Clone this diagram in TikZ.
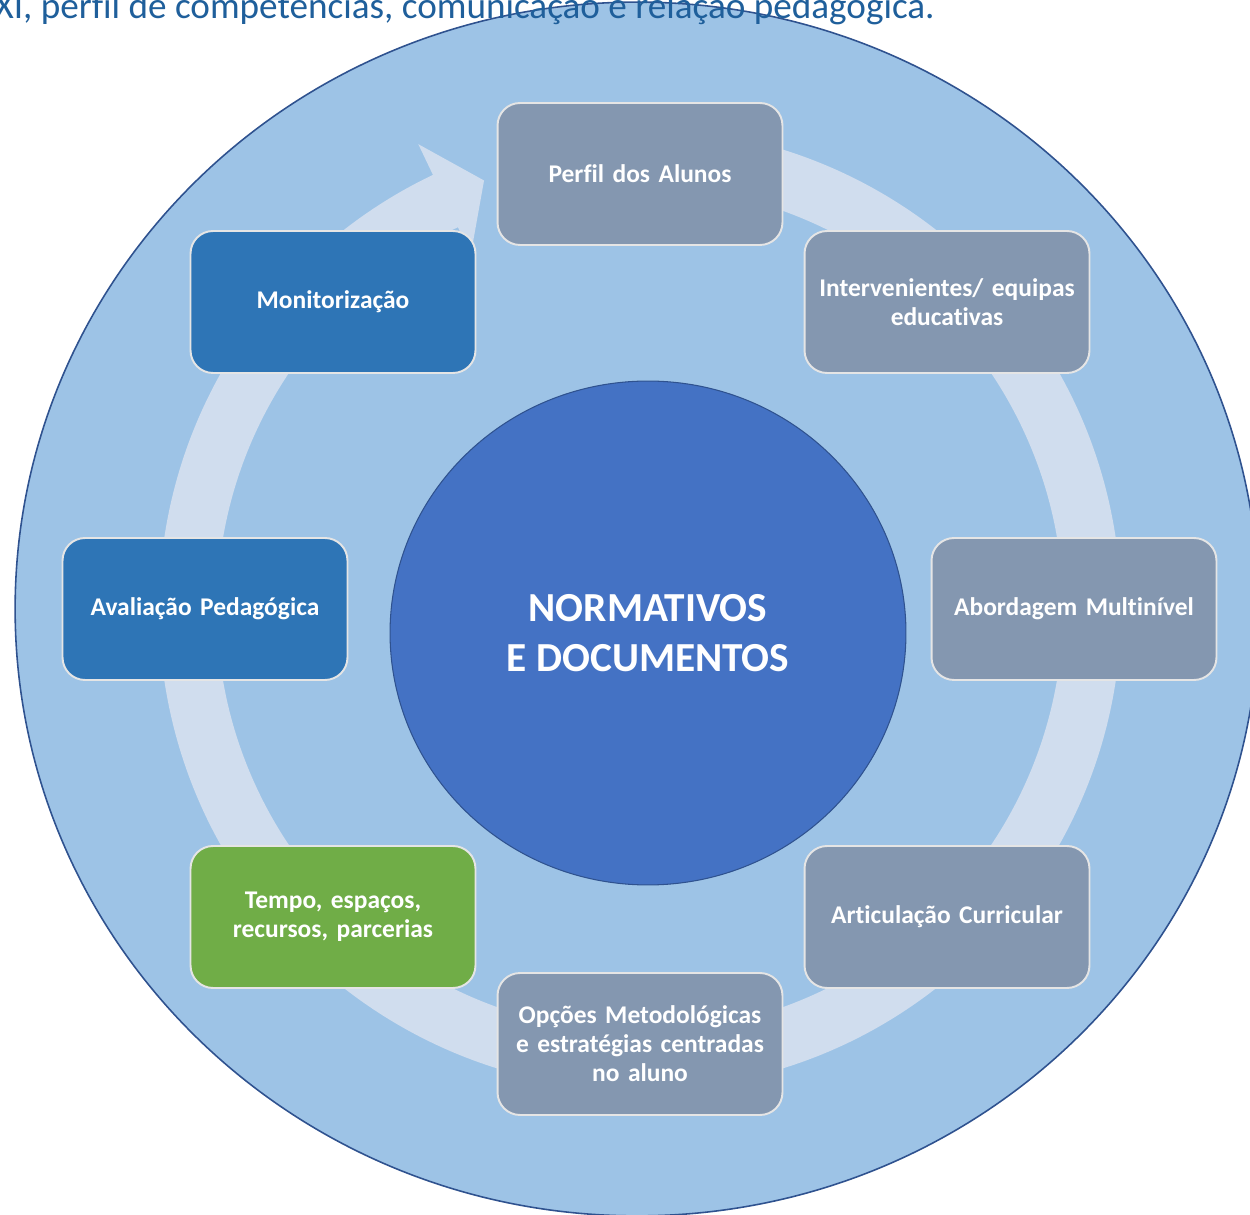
\documentclass[tikz,border=0pt]{standalone}
\usepackage{fontspec}
\setmainfont{Carlito}[Ligatures=NoCommon]
\usetikzlibrary{shapes.geometric}
\definecolor{outerblue}{RGB}{157,195,230}
\definecolor{ringblue}{RGB}{208,221,238}
\definecolor{coreblue}{RGB}{68,114,196}
\definecolor{edgeblue}{RGB}{47,82,143}
\definecolor{slatebox}{RGB}{132,151,176}
\definecolor{darkbox}{RGB}{46,117,182}
\definecolor{greenbox}{RGB}{112,173,71}
\definecolor{titleblue}{RGB}{31,95,155}
\tikzset{stage/.style={rectangle,rounded corners=0.45cm,draw=white!90!black,line width=1.1pt,
    minimum width=5.7cm,minimum height=2.84cm,text width=5.3cm,align=center,
    font=\bfseries\fontsize{14.5}{16.5}\selectfont,text=white}}

\begin{document}
\begin{tikzpicture}[x=0.02cm,y=0.02cm]
           \useasboundingbox (0,0) rectangle (1250,1214);
           \node[ellipse,fill=outerblue,draw=edgeblue,line width=0.9pt,
                 minimum width=24.88cm,minimum height=24.28cm] (disc) at (637,605) {};
           % circular arrow behind the boxes
           \fill[ringblue,shift={(640,605)}]
                 (100:481) arc[start angle=100,end angle=-244.5,radius=481]
                 -- (-244.5:515) -- (-250:456) -- (-244.5:393) -- (-244.5:423)
                 arc[start angle=-244.5,end angle=100,radius=423] -- cycle;
           \node[ellipse,fill=coreblue,draw=edgeblue,line width=0.6pt,
                 minimum width=10.32cm,minimum height=10.08cm,text=white,align=center,
                 font=\bfseries\fontsize{23.5}{28.5}\selectfont] (core) at (648,581)
                 {NORMATIVOS\\E DOCUMENTOS};
           \node[stage,fill=slatebox] (perfil) at (640,1040) {Perfil dos Alunos};
           \node[stage,fill=slatebox] (intervenientes) at (947,912) {Intervenientes/ equipas\\educativas};
           \node[stage,fill=slatebox] (abordagem) at (1074,605) {Abordagem Multinível};
           \node[stage,fill=slatebox] (articulacao) at (947,297) {Articulação Curricular};
           \node[stage,fill=slatebox] (opcoes) at (640,170) {Opções Metodológicas\\e estratégias centradas\\no aluno};
           \node[stage,fill=greenbox] (tempo) at (333,297) {Tempo, espaços,\\recursos, parcerias};
           \node[stage,fill=darkbox] (avaliacao) at (205,605) {Avaliação Pedagógica};
           \node[stage,fill=darkbox] (monitorizacao) at (333,912) {Monitorização};
           \node[anchor=base east,text=titleblue,inner sep=0pt,
                 font=\fontsize{21.15}{25}\selectfont] (caption) at (935,1195)
                 {XI, perfil de competências, comunicação e relação pedagógica.};
        \end{tikzpicture}
\end{document}
